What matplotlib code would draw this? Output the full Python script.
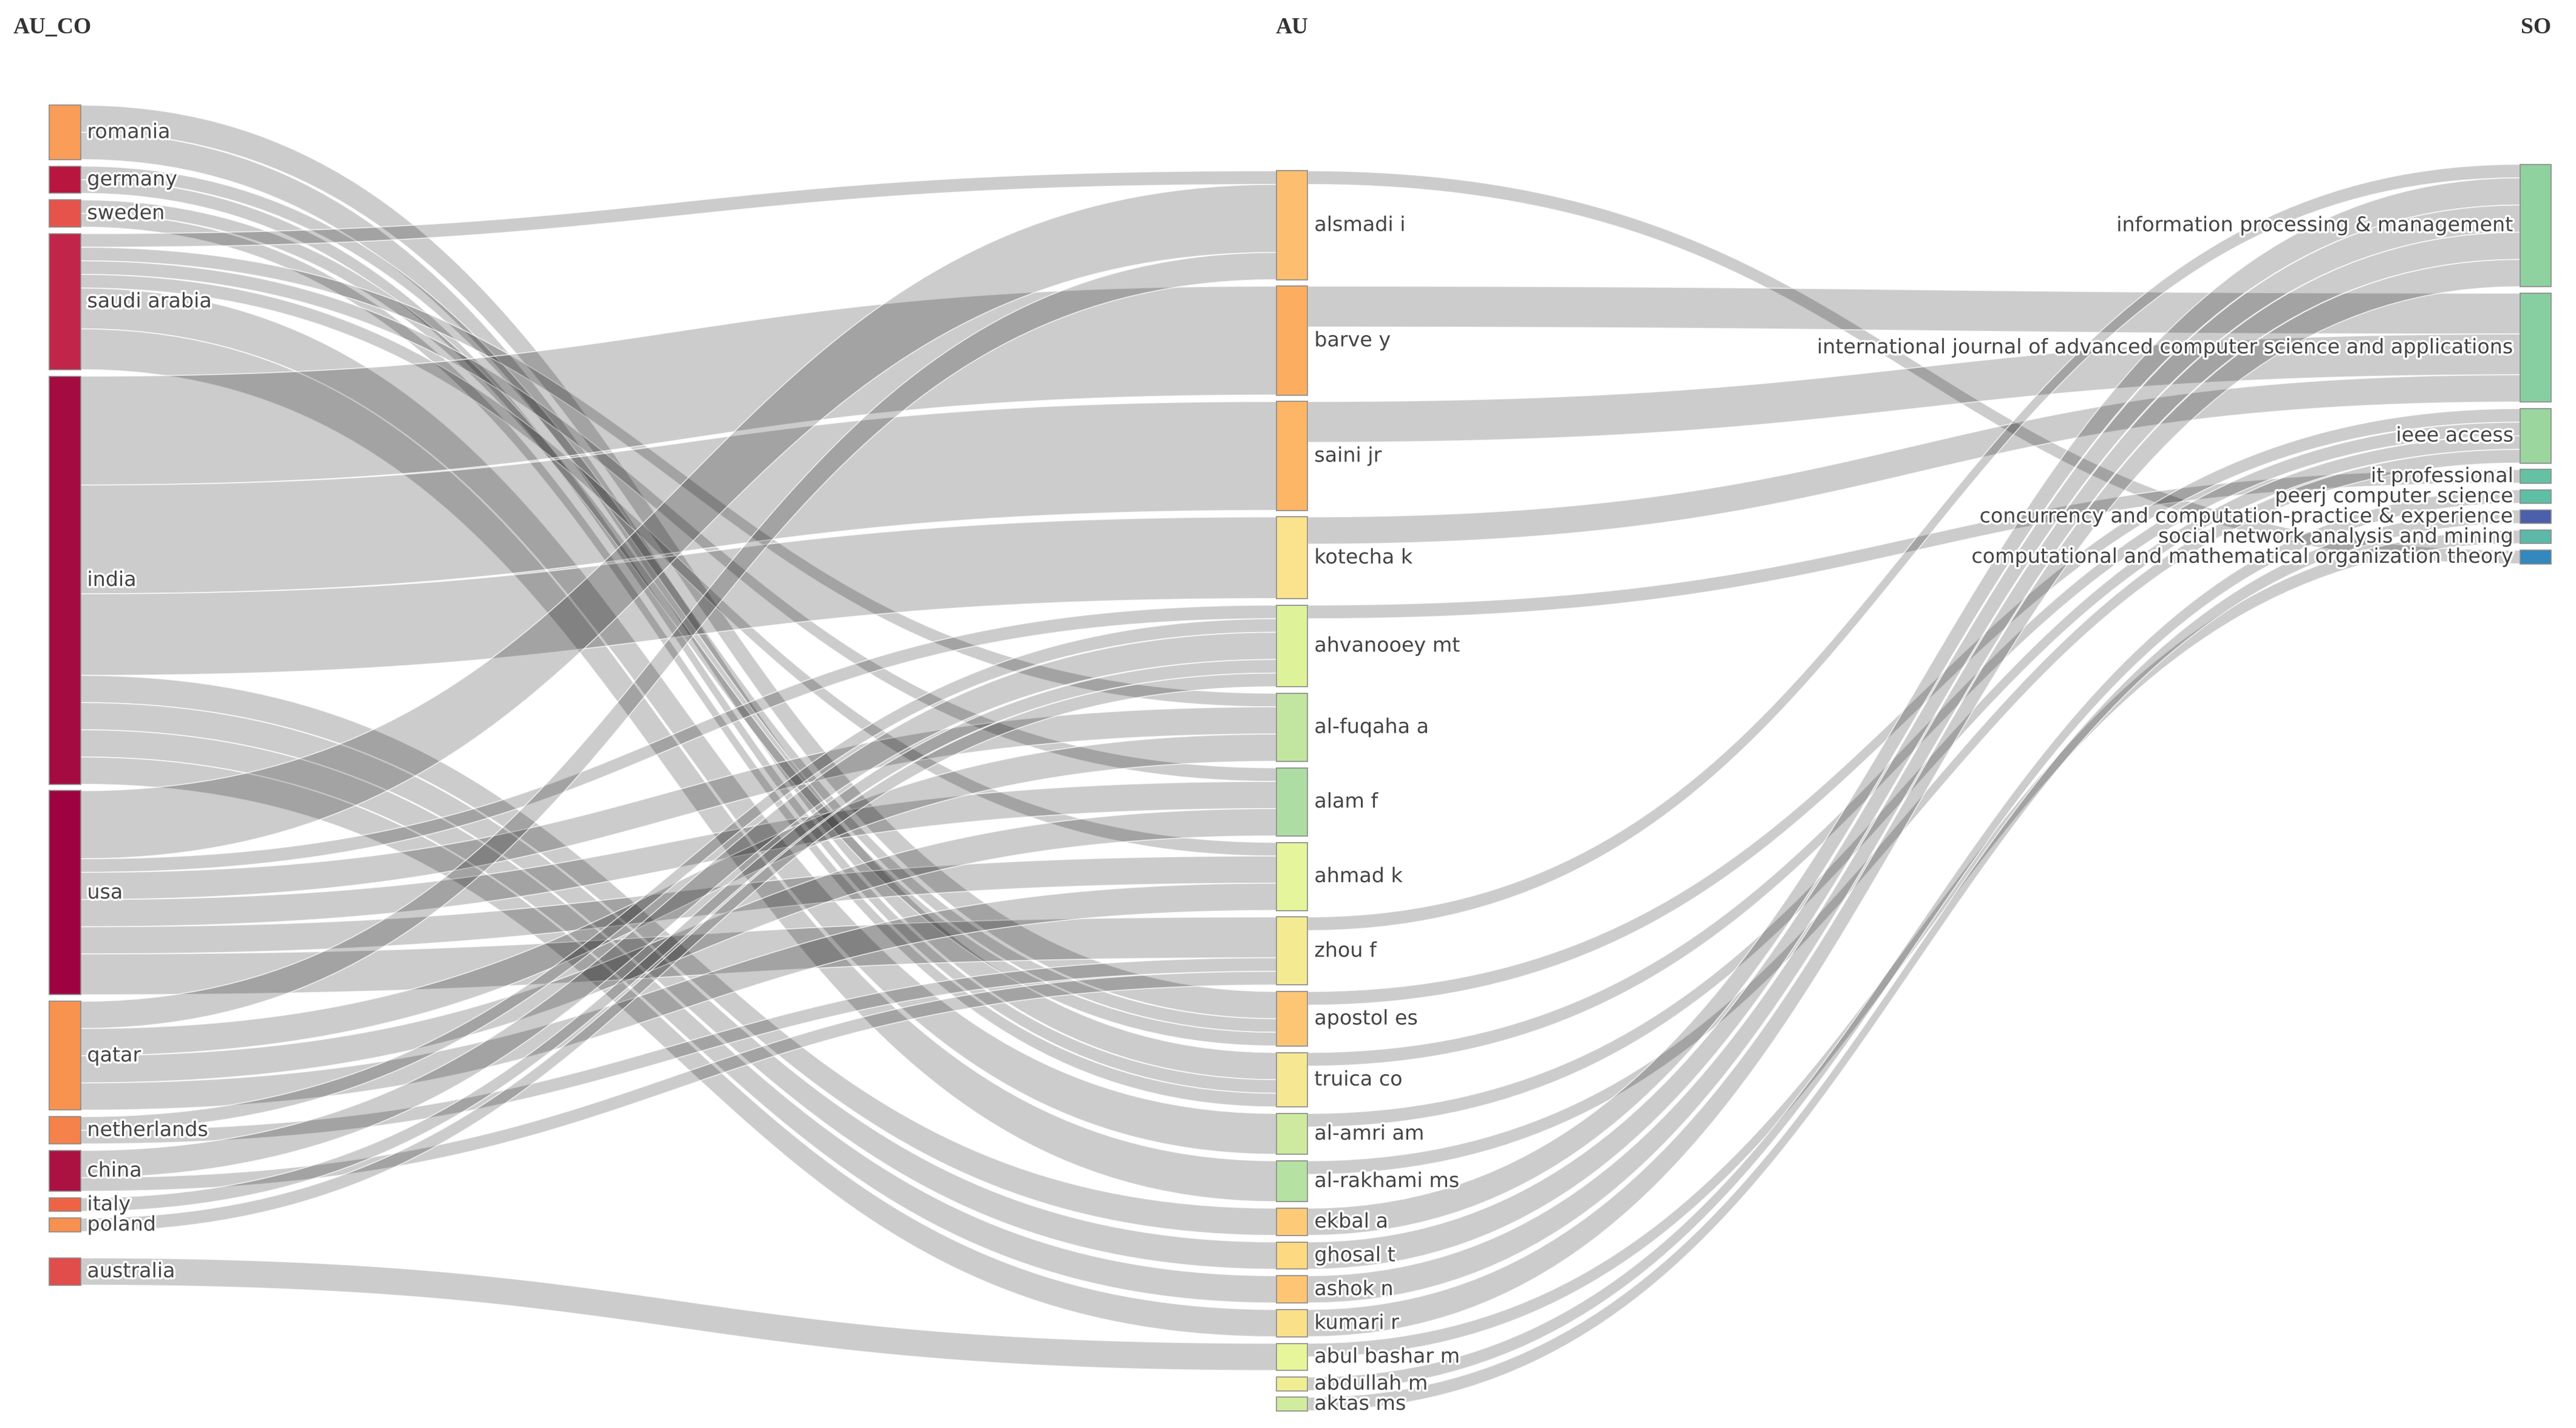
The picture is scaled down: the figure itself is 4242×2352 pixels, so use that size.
import numpy as np
import matplotlib.pyplot as plt
from matplotlib.patches import Rectangle, Polygon
import matplotlib.patheffects as pe

# three fields: countries (AU_CO), authors (AU), sources (SO)
countries = ['romania', 'germany', 'sweden', 'saudi arabia', 'india', 'usa', 'qatar',
             'netherlands', 'china', 'italy', 'poland', 'australia']
country_colors = ['#F99D59', '#B8163F', '#E5534B', '#C1264A', '#A40B41', '#9F0241', '#F7934F',
                  '#F5824A', '#AB1242', '#EF6345', '#F8904F', '#E04D4A']

authors = ['alsmadi i', 'barve y', 'saini jr', 'kotecha k', 'ahvanooey mt', 'al-fuqaha a',
           'alam f', 'ahmad k', 'zhou f', 'apostol es', 'truica co', 'al-amri am',
           'al-rakhami ms', 'ekbal a', 'ghosal t', 'ashok n', 'kumari r', 'abul bashar m',
           'abdullah m', 'aktas ms']
author_colors = ['#FDBE6F', '#FDAD60', '#FDB566', '#FBE28D', '#DEF29A', '#C2E6A0',
                 '#ADDDA3', '#E4F59B', '#F4EA92', '#FDC675', '#F6E792', '#CDEA9F',
                 '#B5E1A2', '#FDCB78', '#FDD981', '#FDC574', '#FBE08A', '#E7F59B',
                 '#EFEE93', '#D0EC9E']

journals = ['information processing & management',
            'international journal of advanced computer science and applications',
            'ieee access', 'it professional', 'peerj computer science',
            'concurrency and computation-practice & experience',
            'social network analysis and mining',
            'computational and mathematical organization theory']
journal_colors = ['#8FD19F', '#87CFA1', '#9CD69F', '#65C1A4', '#5EBFA5', '#4C5FAA',
                  '#5CB8A7', '#3388BD']

# links AU_CO -> AU
co_src = ['romania', 'romania', 'germany', 'germany', 'sweden', 'sweden',
          'saudi arabia', 'saudi arabia', 'saudi arabia', 'saudi arabia', 'saudi arabia', 'saudi arabia',
          'india', 'india', 'india', 'india', 'india', 'india', 'india',
          'usa', 'usa', 'usa', 'usa', 'usa', 'usa',
          'qatar', 'qatar', 'qatar', 'qatar',
          'netherlands', 'netherlands', 'china', 'china', 'italy', 'poland', 'australia']
co_tgt = ['apostol es', 'truica co', 'apostol es', 'truica co', 'apostol es', 'truica co',
          'alsmadi i', 'al-fuqaha a', 'alam f', 'ahmad k', 'al-amri am', 'al-rakhami ms',
          'barve y', 'saini jr', 'kotecha k', 'ekbal a', 'ghosal t', 'ashok n', 'kumari r',
          'alsmadi i', 'ahvanooey mt', 'al-fuqaha a', 'alam f', 'ahmad k', 'zhou f',
          'alsmadi i', 'al-fuqaha a', 'alam f', 'ahmad k',
          'ahvanooey mt', 'zhou f', 'ahvanooey mt', 'zhou f', 'ahvanooey mt', 'ahvanooey mt',
          'abul bashar m']
co_val = [2, 2, 1, 1, 1, 1,
          1, 1, 1, 1, 3, 3,
          8, 8, 6, 2, 2, 2, 2,
          5, 1, 2, 2, 2, 3,
          2, 2, 2, 2,
          1, 1, 2, 1, 1, 1, 2]

# links AU -> SO
so_src = ['alsmadi i', 'barve y', 'saini jr', 'kotecha k', 'ahvanooey mt', 'zhou f',
          'apostol es', 'truica co', 'al-amri am', 'al-rakhami ms', 'ekbal a', 'ghosal t',
          'ashok n', 'kumari r', 'abul bashar m', 'abdullah m', 'aktas ms']
so_tgt = ['computational and mathematical organization theory',
          'international journal of advanced computer science and applications',
          'international journal of advanced computer science and applications',
          'international journal of advanced computer science and applications',
          'it professional', 'information processing & management',
          'ieee access', 'ieee access', 'ieee access', 'ieee access',
          'information processing & management', 'information processing & management',
          'information processing & management', 'information processing & management',
          'social network analysis and mining', 'peerj computer science',
          'concurrency and computation-practice & experience']
so_val = [1, 3, 3, 2, 1, 1, 1, 1, 1, 1, 2, 2, 2, 2, 1, 1, 1]

# layout (canvas units)
W, H = 1568, 869.4
col_x = [30, 777, 1534]
node_w = 19
col_top = [64, 104, 100]
unit = 8.28
pad = 4
extra_gap = {'australia': 12}

columns = [countries, authors, journals]
colors = [country_colors, author_colors, journal_colors]

links = [(0, s, t, v) for s, t, v in zip(co_src, co_tgt, co_val)]
links += [(1, s, t, v) for s, t, v in zip(so_src, so_tgt, so_val)]

inflow, outflow = {}, {}
for c, s, t, v in links:
    outflow[(c, s)] = outflow.get((c, s), 0) + v
    inflow[(c + 1, t)] = inflow.get((c + 1, t), 0) + v

node_top, node_h = {}, {}
for c, names in enumerate(columns):
    y = col_top[c]
    for n in names:
        y += extra_gap.get(n, 0)
        val = max(inflow.get((c, n), 0), outflow.get((c, n), 0))
        node_top[(c, n)] = y
        node_h[(c, n)] = val * unit
        y += val * unit + pad

# stack links on nodes: outgoing by target position, incoming by source position
out_y = dict(node_top)
in_y = dict(node_top)
src_pos, tgt_pos = {}, {}
for c, s, t, v in sorted(links, key=lambda l: (l[0], node_top[(l[0], l[1])], node_top[(l[0] + 1, l[2])])):
    y0 = out_y[(c, s)]
    src_pos[(c, s, t)] = (y0, y0 + v * unit)
    out_y[(c, s)] = y0 + v * unit
for c, s, t, v in sorted(links, key=lambda l: (l[0], node_top[(l[0] + 1, l[2])], node_top[(l[0], l[1])])):
    y0 = in_y[(c + 1, t)]
    tgt_pos[(c, s, t)] = (y0, y0 + v * unit)
    in_y[(c + 1, t)] = y0 + v * unit


def band(x0, x1, a0, a1, b0, b1, n=90):
    t = np.linspace(0, 1, n)
    xm = (x0 + x1) / 2
    bx = (1 - t) ** 3 * x0 + 3 * (1 - t) ** 2 * t * xm + 3 * (1 - t) * t ** 2 * xm + t ** 3 * x1
    k = 3 * t ** 2 - 2 * t ** 3
    top = a0 + (b0 - a0) * k
    bot = a1 + (b1 - a1) * k
    return np.column_stack([np.concatenate([bx, bx[::-1]]), np.concatenate([top, bot[::-1]])])


fig = plt.figure(figsize=(4242 / 200, 2352 / 200), dpi=200)
ax = fig.add_axes([0, 0, 1, 1])
ax.set_xlim(0, W)
ax.set_ylim(H, 0)
ax.axis('off')

# links
for c, s, t, v in links:
    a0, a1 = src_pos[(c, s, t)]
    b0, b1 = tgt_pos[(c, s, t)]
    pts = band(col_x[c] + node_w, col_x[c + 1], a0, a1, b0, b1)
    ax.add_patch(Polygon(pts, closed=True, facecolor=(0, 0, 0, 0.2),
                         edgecolor=(1, 1, 1, 0.75), lw=0.6))

# nodes and labels
halo = [pe.withStroke(linewidth=2.5, foreground='white')]
for c, names in enumerate(columns):
    for n, col in zip(names, colors[c]):
        top = node_top[(c, n)]
        h = node_h[(c, n)]
        ax.add_patch(Rectangle((col_x[c], top), node_w, h, facecolor=col,
                               edgecolor='#8a8a8a', lw=0.6))
        if c < 2:
            ax.text(col_x[c] + node_w + 4, top + h / 2, n, ha='left', va='center',
                    fontsize=12, color='#444444', fontfamily='DejaVu Sans', path_effects=halo)
        else:
            ax.text(col_x[c] - 4, top + h / 2, n, ha='right', va='center',
                    fontsize=12, color='#444444', fontfamily='DejaVu Sans', path_effects=halo)

# column titles
head = dict(va='center', fontsize=13.5, fontweight='bold', color='#333333',
            fontfamily='Liberation Serif')
ax.text(8, 17, 'AU_CO', ha='left', **head)
ax.text(col_x[1] + node_w / 2, 17, 'AU', ha='center', **head)
ax.text(col_x[2] + node_w, 17, 'SO', ha='right', **head)

fig.savefig('out.png', dpi=200, facecolor='white')
